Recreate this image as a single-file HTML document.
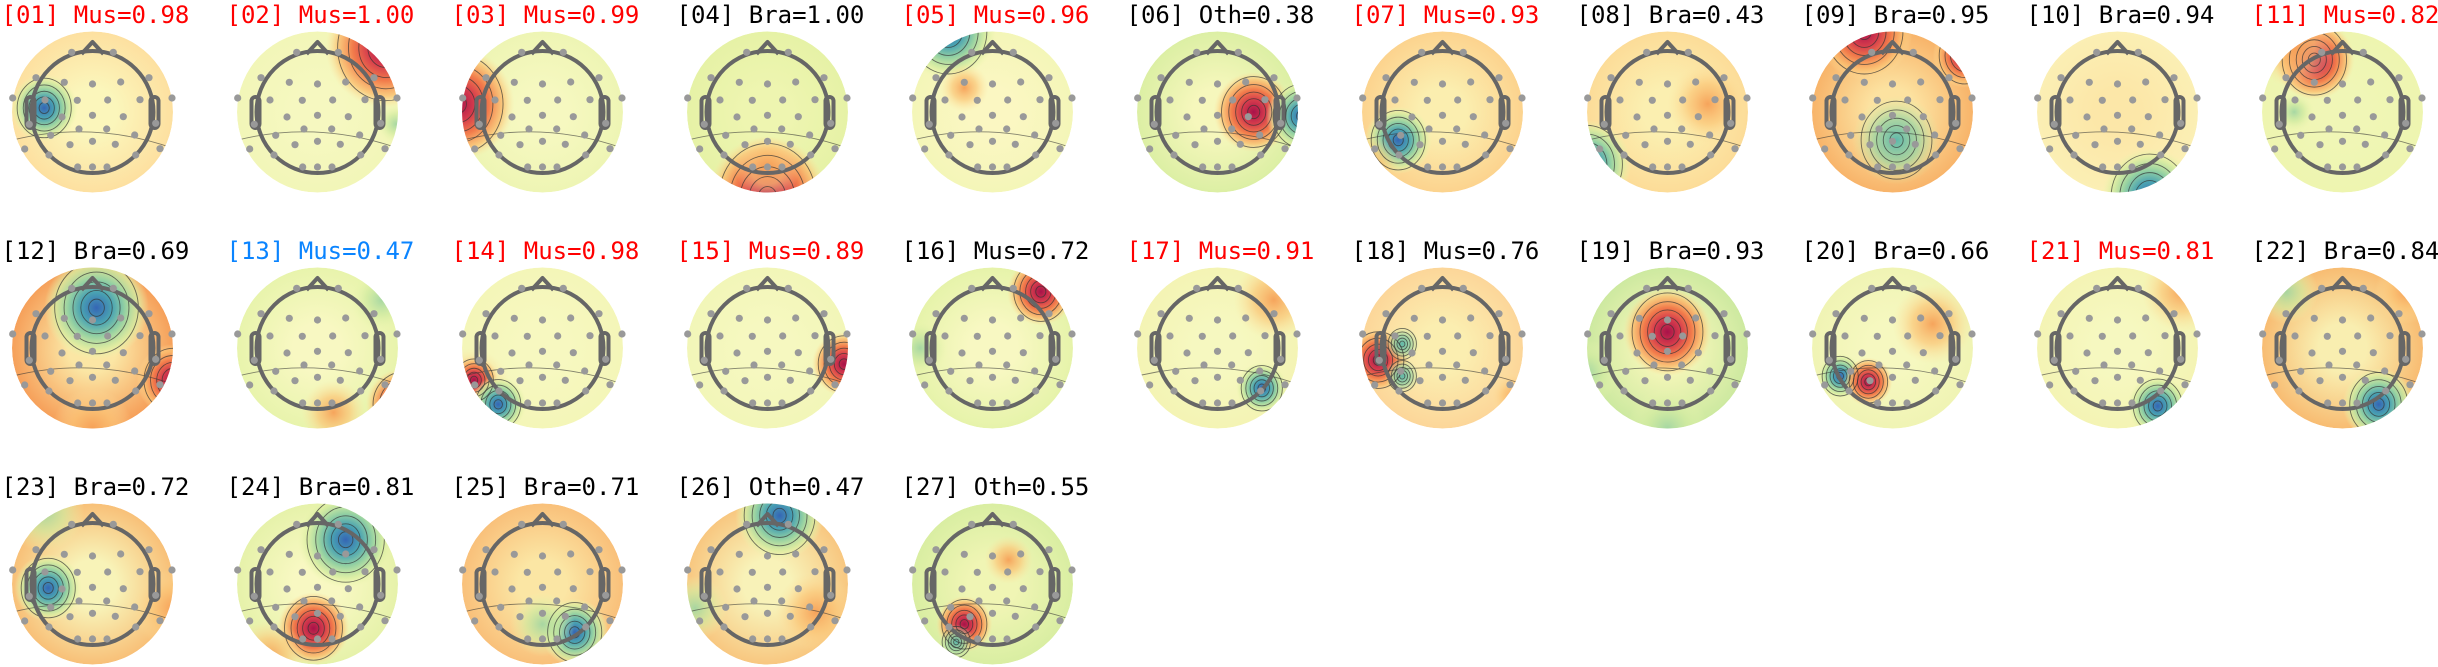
<!DOCTYPE html>
<html><head><meta charset="utf-8">
<style>
html,body{margin:0;padding:0;background:#fff;}
svg{display:block;}
</style></head>
<body>
<svg id="s" width="2438" height="667" xmlns="http://www.w3.org/2000/svg"></svg>
<script>
const R=80.5;
const E=[[-20.8,-59.7],[20.8,-59.7],[-56.5,-34.3],[-28.2,-29.7],[0,-28],[28.2,-30],[56.5,-34.3],
[-79.8,-14],[-47.5,-12],[-15.2,-11.7],[15.2,-12],[47.5,-12.3],[79.5,-14],
[-63.2,12.3],[-30.5,5],[0,3.3],[30.8,4.7],[63.2,11.3],
[-41.8,23.3],[-13.5,17],[14.2,17],[42.2,23],
[-67.8,37],[-22.5,32.7],[0,29.3],[22.8,32.3],[67.5,36.7],
[-43.5,43],[43.2,43],[-14.8,55],[0,55],[14.5,55]];
const STOPS={
B:[["#3566b5",0,1],["#4aa3b2",0.3,1],["#97d2a2",0.55,1],["#d8eda0",0.8,0.8],["#eef6b0",1,0]],
R:[["#a8124a",0,1],["#d63c4c",0.3,1],["#f27c4b",0.55,1],["#fbbf6f",0.8,0.8],["#fde3a0",1,0]],
O:[["#f6a057",0,0.95],["#fbc576",0.5,0.7],["#fde3a0",1,0]],
G:[["#a3d6a2",0,0.95],["#cfeaa0",0.5,0.7],["#eef6b0",1,0]],
T:[["#5fb8aa",0,1],["#9bd3a2",0.5,0.8],["#e2f2a8",1,0]]};
const K='#000',Rd='#ff0000',Bl='#0a84ff';
const M=[
["[01] Mus=0.98",Rd,"#fbf6bb","#fde0a0",[["B",-0.6,-0.05,0.42]]],
["[02] Mus=1.00",Rd,"#f6f8c0","#f2f6b8",[["R",0.85,-0.8,0.75],["G",0.98,0.15,0.25]]],
["[03] Mus=0.99",Rd,"#f6f8c0","#eef5b4",[["R",-1.05,-0.1,0.7]]],
["[04] Bra=1.00",K,"#eef5b0","#e6f2a6",[["R",0,1.05,0.75],["O",0,0.7,0.4]]],
["[05] Mus=0.96",Rd,"#fbf7c2","#f4f6b8",[["B",-0.55,-1.0,0.6],["O",-0.35,-0.3,0.3]]],
["[06] Oth=0.38",K,"#f6f7bc","#dcefa4",[["R",0.45,0,0.5],["B",1.05,0.05,0.45]]],
["[07] Mus=0.93",Rd,"#fbeeaf","#fcd38e",[["B",-0.55,0.35,0.42],["O",-0.95,0.7,0.45]]],
["[08] Bra=0.43",K,"#fbefb0","#fcdc98",[["B",-1.0,0.65,0.55],["O",0.5,-0.1,0.5]]],
["[09] Bra=0.95",K,"#fce2a0","#f8b46a",[["R",-0.35,-1.0,0.6],["R",0.9,-0.7,0.4],["T",0.05,0.35,0.55]]],
["[10] Bra=0.94",K,"#fce7a8","#fbefb4",[["B",0.4,1.05,0.6]]],
["[11] Mus=0.82",Rd,"#f0f6b6","#eef5b0",[["R",-0.35,-0.65,0.5],["O",-0.6,-0.8,0.5],["G",-0.6,0,0.25]]],
["[12] Bra=0.69",K,"#fbe6a4","#f6a05a",[["B",0.05,-0.5,0.65],["R",1.0,0.4,0.45],["O",0,1,0.5]]],
["[13] Mus=0.47",Bl,"#f8f8c2","#e8f4ac",[["R",1.05,0.7,0.45],["G",0.8,-0.6,0.4],["O",0.2,0.8,0.4]]],
["[14] Mus=0.98",Rd,"#f7f8c0","#f4f6b8",[["O",-0.9,0.5,0.5],["R",-0.85,0.4,0.3],["B",-0.55,0.7,0.35]]],
["[15] Mus=0.89",Rd,"#f6f8c0","#f2f6b8",[["R",0.95,0.2,0.4]]],
["[16] Mus=0.72",K,"#f8f8c2","#e6f3aa",[["R",0.6,-0.7,0.42],["G",-0.9,0,0.35]]],
["[17] Mus=0.91",Rd,"#f6f8c0","#f4f4b4",[["O",0.7,-0.6,0.5],["B",0.55,0.5,0.32]]],
["[18] Mus=0.76",K,"#fbeeb0","#fcd699",[["R",-0.8,0.15,0.4],["T",-0.5,-0.05,0.22],["T",-0.5,0.35,0.22],["O",0.9,0.6,0.3]]],
["[19] Bra=0.93",K,"#f4f6b8","#cde9a0",[["R",0,-0.2,0.55],["G",0,1,0.5],["G",-1,0.3,0.4]]],
["[20] Bra=0.66",K,"#f6f8c0","#f0f4b4",[["B",-0.65,0.35,0.28],["R",-0.3,0.42,0.3],["O",0.5,-0.3,0.5]]],
["[21] Mus=0.81",Rd,"#f6f8c0","#f4f4b4",[["O",0.8,-0.7,0.5],["B",0.5,0.72,0.38]]],
["[22] Bra=0.84",K,"#f9eeb0","#f8bc72",[["B",0.45,0.7,0.45],["G",-0.7,-0.7,0.4],["O",0.8,-0.7,0.4]]],
["[23] Bra=0.72",K,"#f8f3b8","#f8c078",[["B",-0.55,0.05,0.42],["G",-0.6,-0.9,0.5],["O",1.0,0.3,0.5]]],
["[24] Bra=0.81",K,"#f8f8c2","#e6f2aa",[["B",0.35,-0.55,0.6],["R",-0.05,0.55,0.45],["O",-0.6,0.9,0.45]]],
["[25] Bra=0.71",K,"#fbe6a4","#f9c07a",[["B",0.4,0.6,0.42],["G",0,0.5,0.4]]],
["[26] Oth=0.47",K,"#f8f2b8","#f8c780",[["B",0.15,-0.85,0.55],["O",0.6,0.35,0.5],["G",-0.9,0.3,0.4]]],
["[27] Oth=0.55",K,"#f0f5b4","#d9eea2",[["R",-0.35,0.5,0.35],["T",-0.45,0.72,0.22],["O",0.2,-0.3,0.3]]]
];
let h='<defs>';
M.forEach((m,i)=>{
 h+=`<radialGradient id="bg${i}"><stop offset="0.3" stop-color="${m[2]}"/><stop offset="1" stop-color="${m[3]}"/></radialGradient>`;
 m[4].forEach((b,j)=>{h+=`<radialGradient id="g${i}_${j}">`+STOPS[b[0]].map(s=>`<stop offset="${s[1]}" stop-color="${s[0]}" stop-opacity="${s[2]}"/>`).join('')+'</radialGradient>';});
 const col=i%11,row=Math.floor(i/11);
 const cx=92.5+225*col,cy=112+236*row;
 h+=`<clipPath id="c${i}"><circle cx="${cx}" cy="${cy}" r="${R}"/></clipPath>`;
});
h+='</defs>';
M.forEach((m,i)=>{
 const col=i%11,row=Math.floor(i/11);
 const cx=92.5+225*col,cy=112+236*row;
 h+=`<text x="${cx-91}" y="${23+236*row}" fill="${m[1]}" font-family="DejaVu Sans Mono, Liberation Mono, monospace" font-size="24">${m[0]}</text>`;
 h+=`<g clip-path="url(#c${i})"><circle cx="${cx}" cy="${cy}" r="${R}" fill="url(#bg${i})"/>`;
 m[4].forEach((b,j)=>{
  const bx=cx+b[1]*R,by=cy+b[2]*R,br=b[3]*R;
  h+=`<circle cx="${bx}" cy="${by}" r="${br}" fill="url(#g${i}_${j})"/>`;
 });
 m[4].forEach((b,j)=>{
  if(b[0]=='O'||b[0]=='G')return;
  const bx=cx+b[1]*R,by=cy+b[2]*R,br=b[3]*R;
  [0.15,0.3,0.45,0.62,0.8].forEach(f=>{h+=`<ellipse cx="${bx}" cy="${by}" rx="${br*f}" ry="${br*f*1.1}" fill="none" stroke="#333" stroke-opacity="0.7" stroke-width="0.9"/>`;});
 });
 h+=`<path d="M${cx-R} ${cy+R*0.35} Q${cx} ${cy+R*0.1} ${cx+R} ${cy+R*0.45}" fill="none" stroke="#333" stroke-opacity="0.6" stroke-width="0.9"/>`;
 h+='</g>';
 h+=`<g fill="none" stroke="#666" stroke-width="4"><circle cx="${cx}" cy="${cy}" r="61"/>
 <path d="M${cx-11} ${cy-58} L${cx} ${cy-70} L${cx+11} ${cy-58}" stroke-linejoin="round"/>
 <rect x="${cx-66}" y="${cy-15}" width="8" height="31" rx="4"/><rect x="${cx+58}" y="${cy-15}" width="8" height="31" rx="4"/></g>`;
 E.forEach(e=>{h+=`<circle cx="${cx+e[0]}" cy="${cy+e[1]}" r="3.6" fill="#999"/>`;});
});
document.getElementById('s').innerHTML=h;
</script>
</body></html>
